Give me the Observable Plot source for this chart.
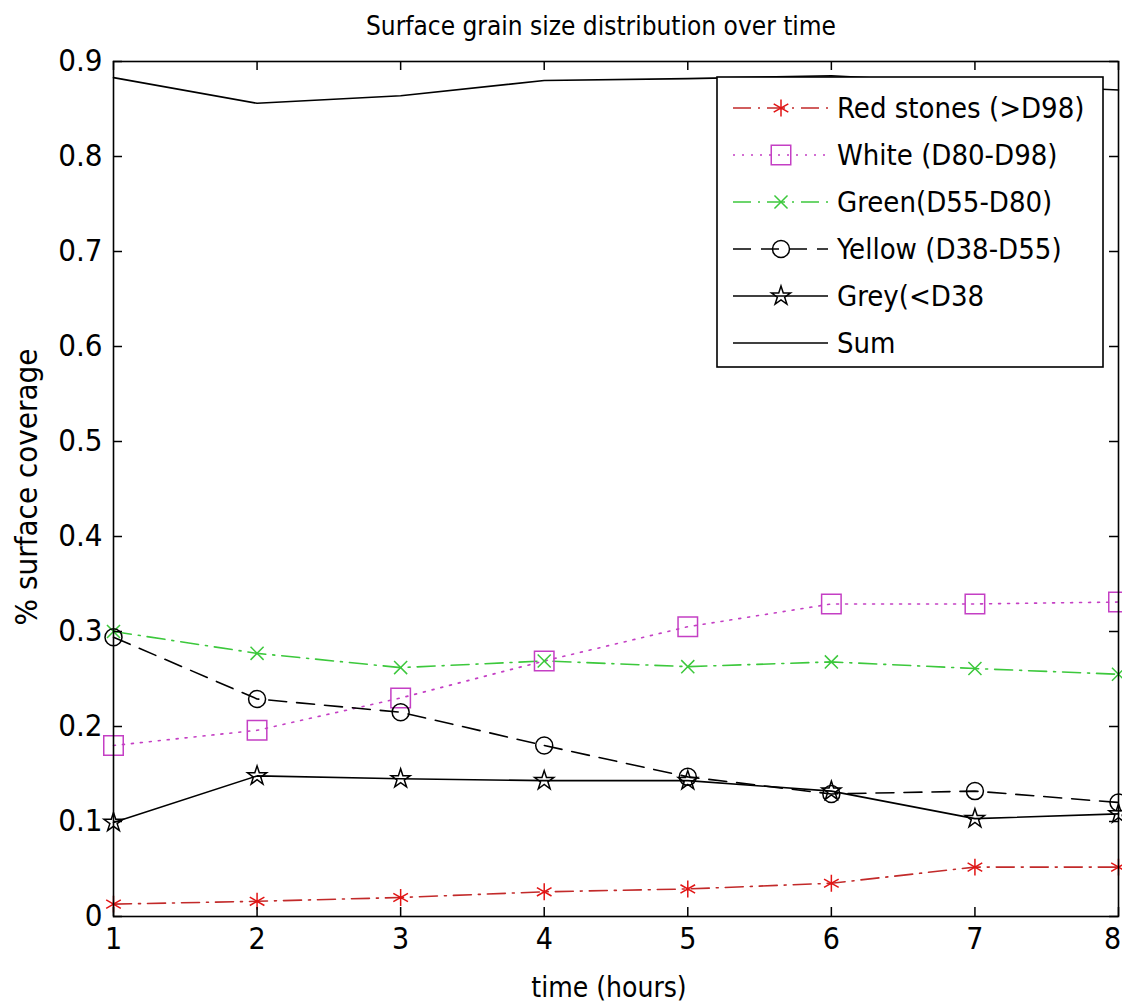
<!DOCTYPE html>
<html><head><meta charset="utf-8">
<script src="https://cdn.jsdelivr.net/npm/d3@7"></script>
<script src="https://cdn.jsdelivr.net/npm/@observablehq/plot@0.6"></script>
<style>
html,body{margin:0;padding:0;background:#fff;overflow:hidden;}
#chart{position:relative;width:1122px;height:1005px;}
</style></head><body><div id="chart"></div>
<script>
// ---- data ----
const hours = [1, 2, 3, 4, 5, 6, 7, 8];
const redStones = [0.013, 0.016, 0.020, 0.026, 0.029, 0.035, 0.052, 0.052];
const white     = [0.180, 0.196, 0.230, 0.269, 0.305, 0.329, 0.329, 0.331];
const green     = [0.300, 0.277, 0.262, 0.269, 0.263, 0.268, 0.261, 0.255];
const yellow    = [0.294, 0.229, 0.215, 0.180, 0.147, 0.129, 0.132, 0.120];
const grey      = [0.099, 0.148, 0.145, 0.143, 0.143, 0.132, 0.103, 0.108];
const sumTotal  = [0.883, 0.856, 0.864, 0.880, 0.882, 0.885, 0.877, 0.870];
const seriesNames = ["Red stones (>D98)", "White (D80-D98)", "Green(D55-D80)", "Yellow (D38-D55)", "Grey(<D38", "Sum"];
const xTicks = [1, 2, 3, 4, 5, 6, 7, 8];
const yTicks = [0, 0.1, 0.2, 0.3, 0.4, 0.5, 0.6, 0.7, 0.8, 0.9];
const chartTitle = "Surface grain size distribution over time";
const xLabel = "time (hours)";
const yLabel = "% surface coverage";

// ---- styling ----
const FONT = '"DejaVu Sans Condensed","Liberation Sans Narrow","Roboto Condensed","DejaVu Sans",sans-serif';
const W = 1122, H = 1005;
const mL = 113, mR = 4, mT = 61, mB = 89;
const frameW = W - mL - mR, frameH = H - mT - mB;
const TICK = 9;

const series = [
  {name: seriesNames[0], values: redStones, color: "#c22a2a", mcolor: "#e21414", dash: "18,7,2,7", symbol: "asterisk", r: 8},
  {name: seriesNames[1], values: white,     color: "#c43fc4", mcolor: "#c43fc4", dash: "2,7",      symbol: "square",   r: 11},
  {name: seriesNames[2], values: green,     color: "#3cc83c", mcolor: "#3cc83c", dash: "18,7,2,7", symbol: "times",    r: 6},
  {name: seriesNames[3], values: yellow,    color: "#000000", mcolor: "#000000", dash: "18,10",    symbol: "circle",   r: 8.5},
  {name: seriesNames[4], values: grey,      color: "#000000", mcolor: "#000000", dash: null,       symbol: "star",     r: 6},
  {name: seriesNames[5], values: sumTotal,  color: "#000000", mcolor: "#000000", dash: null,       symbol: null,       r: 0}
];

const tidy = s => hours.map((h, i) => ({x: h, y: s.values[i]}));

const marks = [];
for (const s of series) {
  marks.push(Plot.line(tidy(s), {x: "x", y: "y", stroke: s.color, strokeWidth: 1.6, strokeDasharray: s.dash || undefined}));
}
for (const s of series) {
  if (s.symbol) marks.push(Plot.dot(tidy(s), {x: "x", y: "y", symbol: s.symbol, r: s.r, stroke: s.mcolor, fill: "none", strokeWidth: 1.5}));
}

const chart = Plot.plot({
  width: W, height: H,
  marginLeft: mL, marginRight: mR, marginTop: mT, marginBottom: mB,
  style: {fontFamily: FONT, fontSize: "30px", color: "#000", background: "#fff"},
  x: {domain: [1, 8]},
  y: {domain: [0, 0.9]},
  marks: [
    ...marks,
    Plot.frame({stroke: "#000", strokeWidth: 1.6}),
    // inward ticks (MATLAB style) on all four sides
    Plot.tickX(xTicks, {x: d => d, insetTop: frameH - TICK, stroke: "#000", strokeWidth: 1.5}),
    Plot.tickX(xTicks, {x: d => d, insetBottom: frameH - TICK, stroke: "#000", strokeWidth: 1.5}),
    Plot.tickY(yTicks, {y: d => d, insetRight: frameW - TICK, stroke: "#000", strokeWidth: 1.5}),
    Plot.tickY(yTicks, {y: d => d, insetLeft: frameW - TICK, stroke: "#000", strokeWidth: 1.5}),
    Plot.axisX(xTicks.slice(0, -1), {tickSize: 0, tickPadding: 11, label: null, fontSize: 30, tickFormat: d3.format("d")}),
    Plot.axisX(xTicks.slice(-1), {tickSize: 0, tickPadding: 11, label: null, fontSize: 30, dx: -6, tickFormat: d3.format("d")}),
    Plot.axisY(yTicks, {tickSize: 0, tickPadding: 11, label: null, fontSize: 31, tickFormat: d3.format("~g")}),
    Plot.text([chartTitle], {frameAnchor: "top", lineAnchor: "bottom", dy: -27, dx: -15, fontSize: 26, fill: "#000"}),
    Plot.text([xLabel], {frameAnchor: "bottom", lineAnchor: "bottom", dy: 80, dx: -7, fontSize: 28, fill: "#000"}),
    Plot.text([yLabel], {frameAnchor: "left", textAnchor: "middle", rotate: -90, lineAnchor: "top", dx: -99, dy: -2, fontSize: 31, fill: "#000"})
  ]
});
document.getElementById("chart").appendChild(chart);

// ---- legend box (inside plot area, top-right) ----
const svg = d3.select(chart.tagName === "svg" ? chart : chart.querySelector("svg"));
const symMap = {asterisk: d3.symbolAsterisk, square: d3.symbolSquare, times: d3.symbolTimes, circle: d3.symbolCircle, star: d3.symbolStar};
const lg = svg.append("g").attr("transform", "translate(717,77)");
lg.append("rect").attr("width", 386).attr("height", 290).attr("fill", "#fff").attr("stroke", "#000").attr("stroke-width", 1.6);
series.forEach((s, i) => {
  const cy = 31 + i * 47;
  const g = lg.append("g").attr("transform", `translate(0,${cy})`);
  g.append("line").attr("x1", 16).attr("x2", 111).attr("y1", 0).attr("y2", 0)
    .attr("stroke", s.color).attr("stroke-width", 1.6)
    .attr("stroke-dasharray", s.dash || null);
  if (s.symbol) {
    g.append("path").attr("transform", "translate(64,0)")
      .attr("d", d3.symbol(symMap[s.symbol], s.r * s.r * Math.PI)())
      .attr("fill", "none").attr("stroke", s.mcolor).attr("stroke-width", 1.5);
  }
  g.append("text").attr("x", 120).attr("y", 0).attr("dy", "0.35em")
    .attr("text-anchor", "start")
    .attr("font-family", FONT).attr("font-size", 29).attr("fill", "#000").text(s.name);
});
</script>
</body></html>
